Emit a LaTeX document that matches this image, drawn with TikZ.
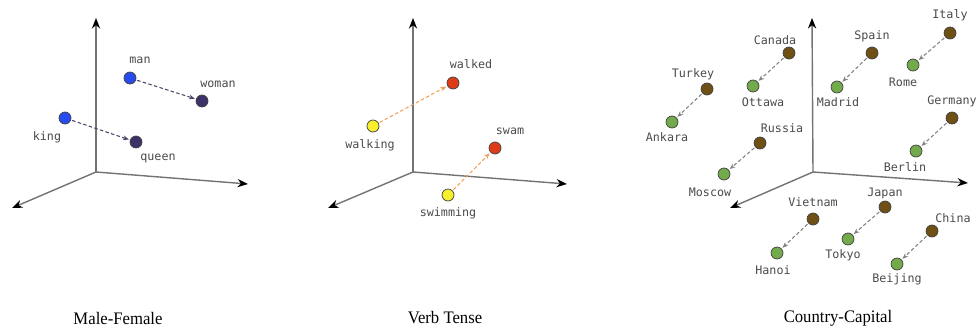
\documentclass[tikz,border=0pt]{standalone}
\usepackage{fontspec}
\setmainfont{Liberation Serif}
\setmonofont{DejaVu Sans Mono}
\usepackage{tikz}
\usetikzlibrary{arrows,arrows.meta,positioning}
\definecolor{axisgray}{RGB}{115,115,115}
\definecolor{textgray}{RGB}{75,75,75}
\definecolor{manblue}{RGB}{40,75,240}
\definecolor{womanpurple}{RGB}{62,48,105}
\definecolor{verbyellow}{RGB}{248,240,45}
\definecolor{pastred}{RGB}{222,60,25}
\definecolor{countrybrown}{RGB}{110,80,20}
\definecolor{capitalgreen}{RGB}{115,170,75}
\definecolor{mfarrow}{RGB}{75,70,105}
\definecolor{vtarrow}{RGB}{240,160,90}
\definecolor{ccarrow}{RGB}{130,130,130}

\begin{document}
\begin{tikzpicture}[x=0.03cm, y=-0.03cm]
\tikzstyle{embdot} = [circle, inner sep=0pt, minimum size=0.36cm, draw=black!75, line width=0.6pt]
\tikzstyle{word} = [font=\ttfamily\fontsize{10}{10}\selectfont, text=textgray, inner sep=0pt]
\tikzstyle{axis} = [draw=axisgray, line width=1.2pt, -{Stealth[length=9pt,width=7pt,black]}]
\tikzstyle{vecarrow} = [dash pattern=on 3pt off 2pt, line width=0.9pt, -{Stealth[length=5pt,width=4pt]}, shorten >=1pt, shorten <=1pt]
\tikzstyle{paneltitle} = [font=\fontsize{15}{15}\selectfont, inner sep=0pt, xscale=0.95]

\useasboundingbox (0,0) rectangle (977,331);

% Male-Female
\coordinate (mfo) at (96,172);
\coordinate (mfup) at (96,18);
\coordinate (mfright) at (248,184);
\coordinate (mfleft) at (12,208);
\draw [axis] (mfo) -- (mfup);
\draw [axis] (mfo) -- (mfright);
\draw [axis] (mfo) -- (mfleft);

\node (man) [embdot, fill=manblue] at (130,78) {};
\node (woman) [embdot, fill=womanpurple] at (202,101) {};
\node (king) [embdot, fill=manblue] at (65,118) {};
\node (queen) [embdot, fill=womanpurple] at (136,142) {};
\node (lman) [word] at (140,60) {man};
\node (lwoman) [word] at (218,84) {woman};
\node (lking) [word] at (47,137) {king};
\node (lqueen) [word] at (158,158) {queen};
\draw [vecarrow, mfarrow] (man) -- (woman);
\draw [vecarrow, mfarrow] (king) -- (queen);

% Verb Tense
\coordinate (vto) at (413,172);
\coordinate (vtup) at (413,18);
\coordinate (vtright) at (567,184);
\coordinate (vtleft) at (328,208);
\draw [axis] (vto) -- (vtup);
\draw [axis] (vto) -- (vtright);
\draw [axis] (vto) -- (vtleft);

\node (walking) [embdot, fill=verbyellow] at (373,126) {};
\node (walked) [embdot, fill=pastred] at (453,83) {};
\node (swimming) [embdot, fill=verbyellow] at (448,195) {};
\node (swam) [embdot, fill=pastred] at (495,148) {};
\node (lwalking) [word] at (370,145) {walking};
\node (lwalked) [word] at (471,64) {walked};
\node (lswimming) [word] at (448,213) {swimming};
\node (lswam) [word] at (510,131) {swam};
\draw [vecarrow, vtarrow] (walking) -- (walked);
\draw [vecarrow, vtarrow] (swimming) -- (swam);

% Country-Capital
\coordinate (cco) at (813,172);
\coordinate (ccup) at (812,18);
\coordinate (ccright) at (968,183);
\coordinate (ccleft) at (730,208);
\draw [axis] (cco) -- (ccup);
\draw [axis] (cco) -- (ccright);
\draw [axis] (cco) -- (ccleft);

\node (italy) [embdot, fill=countrybrown] at (950,33) {};
\node (rome) [embdot, fill=capitalgreen] at (913,65) {};
\node (spain) [embdot, fill=countrybrown] at (872,53) {};
\node (madrid) [embdot, fill=capitalgreen] at (837,87) {};
\node (canada) [embdot, fill=countrybrown] at (789,53) {};
\node (ottawa) [embdot, fill=capitalgreen] at (753,86) {};
\node (turkey) [embdot, fill=countrybrown] at (707,89) {};
\node (ankara) [embdot, fill=capitalgreen] at (672,122) {};
\node (russia) [embdot, fill=countrybrown] at (760,143) {};
\node (moscow) [embdot, fill=capitalgreen] at (724,174) {};
\node (germany) [embdot, fill=countrybrown] at (952,118) {};
\node (berlin) [embdot, fill=capitalgreen] at (916,151) {};
\node (vietnam) [embdot, fill=countrybrown] at (813,219) {};
\node (hanoi) [embdot, fill=capitalgreen] at (777,253) {};
\node (japan) [embdot, fill=countrybrown] at (885,207) {};
\node (tokyo) [embdot, fill=capitalgreen] at (848,239) {};
\node (china) [embdot, fill=countrybrown] at (932,231) {};
\node (beijing) [embdot, fill=capitalgreen] at (897,264) {};

\node (litaly) [word] at (950,15) {Italy};
\node (lrome) [word] at (903,82) {Rome};
\node (lspain) [word] at (872,36) {Spain};
\node (lmadrid) [word] at (838,102) {Madrid};
\node (lcanada) [word] at (775,40) {Canada};
\node (lottawa) [word] at (763,102) {Ottawa};
\node (lturkey) [word] at (693,74) {Turkey};
\node (lankara) [word] at (667,137) {Ankara};
\node (lrussia) [word] at (782,128) {Russia};
\node (lmoscow) [word] at (710,192) {Moscow};
\node (lgermany) [word] at (952,101) {Germany};
\node (lberlin) [word] at (905,167) {Berlin};
\node (lvietnam) [word] at (813,202) {Vietnam};
\node (lhanoi) [word] at (773,270) {Hanoi};
\node (ljapan) [word] at (885,193) {Japan};
\node (ltokyo) [word] at (843,255) {Tokyo};
\node (lchina) [word] at (953,218) {China};
\node (lbeijing) [word] at (897,279) {Beijing};

\draw [vecarrow, ccarrow] (italy) -- (rome);
\draw [vecarrow, ccarrow] (spain) -- (madrid);
\draw [vecarrow, ccarrow] (canada) -- (ottawa);
\draw [vecarrow, ccarrow] (turkey) -- (ankara);
\draw [vecarrow, ccarrow] (russia) -- (moscow);
\draw [vecarrow, ccarrow] (germany) -- (berlin);
\draw [vecarrow, ccarrow] (vietnam) -- (hanoi);
\draw [vecarrow, ccarrow] (japan) -- (tokyo);
\draw [vecarrow, ccarrow] (china) -- (beijing);

% captions
\node (tmf) [paneltitle] at (118,318) {Male-Female};
\node (tvt) [paneltitle] at (445,318) {Verb Tense};
\node (tcc) [paneltitle] at (838,318) {Country-Capital};
\end{tikzpicture}
\end{document}
